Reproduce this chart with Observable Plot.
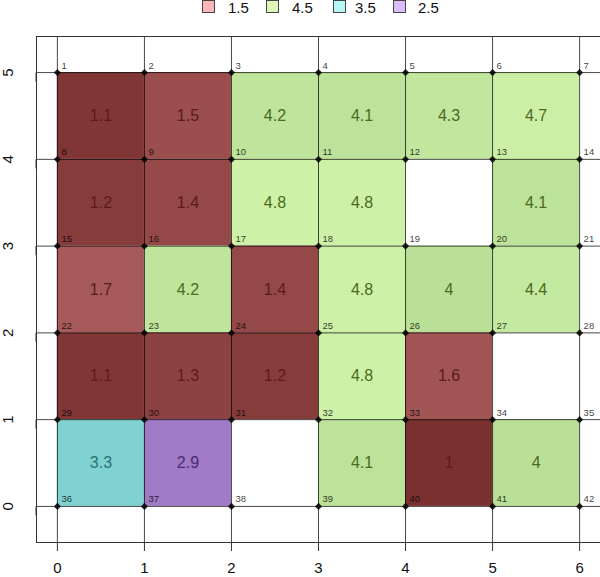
<!DOCTYPE html>
<html>
<head>
<meta charset="utf-8">
<script src="https://cdn.jsdelivr.net/npm/d3@7"></script>
<script src="https://cdn.jsdelivr.net/npm/@observablehq/plot@0.6"></script>
<style>
  html, body { margin: 0; padding: 0; background: #fff; }
  body { width: 600px; height: 577px; overflow: hidden; font-family: "Liberation Sans", Arial, sans-serif; }
  #legend { position: relative; height: 18px; overflow: hidden; }
  #legend .sw { position: absolute; top: 0px; width: 11px; height: 11px; border: 1px solid #444; }
  #legend .lb { position: absolute; top: 0px; font-size: 15px; line-height: 15px; color: #111; }
</style>
</head>
<body>
<div id="legend"></div>
<div id="chart"></div>
<script>
// ---- data ----
const cols = [0, 1, 2, 3, 4, 5];
const rows = [4, 3, 2, 1, 0];
const row4 = [1.1, 1.5, 4.2, 4.1, 4.3, 4.7];
const row3 = [1.2, 1.4, 4.8, 4.8, null, 4.1];
const row2 = [1.7, 4.2, 1.4, 4.8, 4, 4.4];
const row1 = [1.1, 1.3, 1.2, 4.8, 1.6, null];
const row0 = [3.3, 2.9, null, 4.1, 1, 4];
const legendLabels = ["1.5", "4.5", "3.5", "2.5"];
const xTicks = [0, 1, 2, 3, 4, 5, 6];
const yTicks = [0, 1, 2, 3, 4, 5];

// ---- build tables ----
const rowValues = [row4, row3, row2, row1, row0];
const cells = [];
rows.forEach((r, i) => cols.forEach((c, j) => {
  const v = rowValues[i][j];
  if (v != null) cells.push({x: c, y: r, v});
}));
const nodes = [];
yTicks.slice().reverse().forEach((y, i) => xTicks.forEach((x, j) => {
  nodes.push({x, y, id: i * xTicks.length + j + 1});
}));

function group(v) { return v < 2 ? "red" : v < 3 ? "purple" : v < 4 ? "cyan" : "green"; }
const redI = d3.interpolateRgb("#7b3030", "#a65a5a");
const greenI = d3.interpolateRgb("#bae097", "#cef1a8");
function fillOf(v) {
  const g = group(v);
  if (g === "red") return redI((v - 1) / 0.7);
  if (g === "green") return greenI((v - 4) / 0.8);
  if (g === "cyan") return "#80d1d1";
  return "#a07ac5";
}
const textCol = {red: "#5a1b1b", green: "#4b6a1d", cyan: "#2c7070", purple: "#4a2b73"};

// ---- legend ----
const legendColors = ["#ffb6b6", "#dff8b8", "#b6f6f6", "#dbbcfc"];
const swX = [202, 266, 333, 393];
const lbX = [228, 292, 355, 418];
const lg = document.getElementById("legend");
legendLabels.forEach((t, i) => {
  const s = document.createElement("div");
  s.className = "sw"; s.style.left = swX[i] + "px"; s.style.background = legendColors[i];
  lg.appendChild(s);
  const l = document.createElement("div");
  l.className = "lb"; l.style.left = lbX[i] + "px"; l.textContent = t;
  lg.appendChild(l);
});

// ---- plot ----
const chart = Plot.plot({
  width: 600,
  height: 559,
  marginLeft: 36,
  marginRight: 0,
  marginTop: 18,
  marginBottom: 35,
  style: {fontFamily: "'Liberation Sans', Arial, sans-serif", background: "transparent"},
  x: {domain: [-0.24, 6.24], label: null},
  y: {domain: [-0.416, 5.416], label: null},
  marks: [
    Plot.rect(cells, {x1: "x", x2: d => d.x + 1, y1: "y", y2: d => d.y + 1, fill: d => fillOf(d.v)}),
    Plot.ruleX(xTicks, {stroke: "#000", strokeOpacity: 0.72}),
    Plot.ruleY(yTicks, {stroke: "#000", strokeOpacity: 0.72}),
    Plot.dot(nodes, {x: "x", y: "y", r: 3.2, fill: "#000", fillOpacity: 0.85, symbol: "diamond2"}),
    Plot.text(nodes, {x: "x", y: "y", text: "id", fontSize: 9.5, fill: "#000", fillOpacity: 0.78, textAnchor: "start", dx: 4, dy: -7}),
    Plot.text(cells, {x: d => d.x + 0.5, y: d => d.y + 0.5, text: d => String(d.v), fontSize: 16, fill: d => textCol[group(d.v)]}),
    Plot.frame({stroke: "#333"}),
    Plot.axisX(xTicks, {tickSize: 9, tickPadding: 11, fontSize: 15, stroke: "#333", fill: "#111", label: null, tickFormat: d => String(d)}),
    Plot.axisY(yTicks, {tickSize: 9, tickPadding: 19, fontSize: 15, stroke: "#333", fill: "#111", label: null, rotate: -90, textAnchor: "middle", tickFormat: d => String(d)})
  ]
});
document.getElementById("chart").appendChild(chart);
</script>
</body>
</html>
